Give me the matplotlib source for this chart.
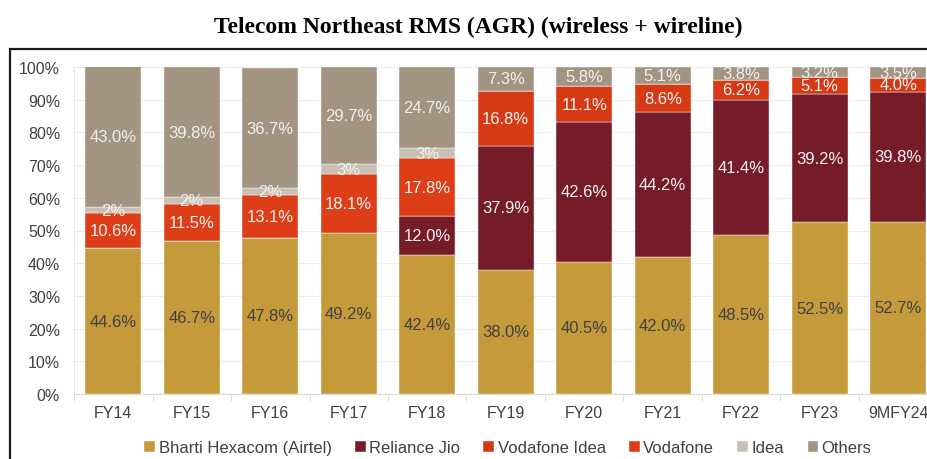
"""
Telecom Northeast RMS (AGR) - stacked share chart by operator.
"""
import matplotlib
matplotlib.use("Agg")
import matplotlib.pyplot as plt
from matplotlib.patches import Rectangle
import numpy as np

years = ["FY14", "FY15", "FY16", "FY17", "FY18", "FY19", "FY20",
         "FY21", "FY22", "FY23", "9MFY24"]

airtel = [44.6, 46.7, 47.8, 49.2, 42.4, 38.0, 40.5, 42.0, 48.5, 52.5, 52.7]
jio = [0, 0, 0, 0, 12.0, 37.9, 42.6, 44.2, 41.4, 39.2, 39.8]
vodafone_idea = [0, 0, 0, 0, 0, 16.8, 11.1, 8.6, 6.2, 5.1, 4.0]
vodafone = [10.6, 11.5, 13.1, 18.1, 17.8, 0, 0, 0, 0, 0, 0]
idea = [2, 2, 2, 3, 3, 0, 0, 0, 0, 0, 0]
others = [43.0, 39.8, 36.7, 29.7, 24.7, 7.3, 5.8, 5.1, 3.8, 3.2, 3.5]

series = [
    ("Bharti Hexacom (Airtel)", airtel, "#C49A3B", "#404040", "{:.1f}%"),
    ("Reliance Jio", jio, "#761C29", "#F2F2F2", "{:.1f}%"),
    ("Vodafone Idea", vodafone_idea, "#D53A15", "#F2F2F2", "{:.1f}%"),
    ("Vodafone", vodafone, "#DD3D17", "#F2F2F2", "{:.1f}%"),
    ("Idea", idea, "#C8C0B4", "#F2F2F2", "{:.0f}%"),
    ("Others", others, "#A39381", "#F2F2F2", "{:.1f}%"),
]

sans = ["Liberation Sans", "DejaVu Sans"]

fig = plt.figure(figsize=(9.28, 4.6), dpi=100)
ax = fig.add_axes([74 / 928, 1 - 395 / 460, 863.5 / 928, 327 / 460])

x = np.arange(len(years))
bottom = np.zeros(len(years))
for name, vals, color, tcolor, fmt in series:
    vals = np.array(vals, dtype=float)
    ax.bar(x, vals, 0.715, bottom=bottom, color=color, label=name,
           edgecolor="white", linewidth=0.3)
    for xi, v, b in zip(x, vals, bottom):
        if v > 0:
            ax.text(xi, b + v / 2, fmt.format(v), ha="center", va="center",
                    fontsize=12, color=tcolor, family=sans, clip_on=True)
    bottom += vals

ax.set_xlim(-0.5, len(years) - 0.5)
ax.set_ylim(0, 100)
ax.set_yticks(np.arange(0, 101, 10))
ax.set_yticklabels([f"{v}%" for v in range(0, 101, 10)],
                   fontsize=11.5, color="#404040", family=sans)
ax.set_xticks(x)
ax.set_xticklabels(years, fontsize=11.5, color="#404040", family=sans)
ax.set_xticks(np.arange(-0.5, len(years)), minor=True)
ax.tick_params(axis="x", which="major", length=0, pad=8)
ax.tick_params(axis="x", which="minor", length=5, color="#D9D9D9")
ax.tick_params(axis="y", length=0, pad=10)

ax.yaxis.grid(True, color="#EDEDED", linewidth=0.8)
ax.set_axisbelow(True)
for side in ["top", "right"]:
    ax.spines[side].set_visible(False)
ax.spines["left"].set_color("#E6E6E6")
ax.spines["bottom"].set_color("#D9D9D9")

fig.legend(*ax.get_legend_handles_labels(), loc="center",
           bbox_to_anchor=(508 / 928, 1 - 449 / 460), ncol=6,
           frameon=False, handlelength=0.65, handleheight=0.65,
           handletextpad=0.2, columnspacing=1.4,
           prop={"family": sans, "size": 12}, labelcolor="#404040")

fig.text(478 / 928, 1 - 27 / 460,
         "Telecom Northeast RMS (AGR) (wireless + wireline)",
         ha="center", va="center", fontsize=17, fontweight="bold",
         family=["Liberation Serif"])

fig.patches.append(Rectangle((10 / 928, -0.05), 1.0, 1 - 50 / 460 + 0.05,
                             transform=fig.transFigure, fill=False,
                             edgecolor="#1A1A1A", linewidth=1.6))

fig.savefig("out.png", dpi=100)
